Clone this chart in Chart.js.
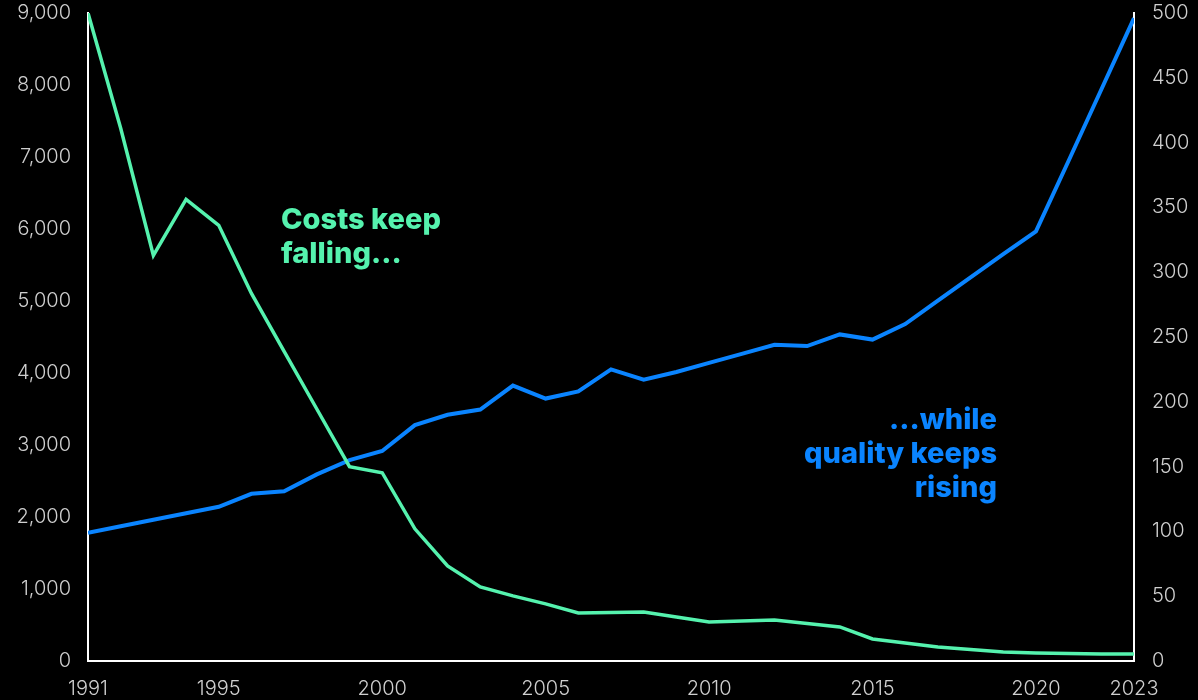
<!DOCTYPE html>
<html>
<head>
<meta charset="utf-8">
<script src="https://cdn.jsdelivr.net/npm/chart.js@4.4.1/dist/chart.umd.min.js"></script>
<style>
  html, body { margin: 0; padding: 0; background: #000; }
  #wrap { width: 1198px; height: 700px; position: relative; }
</style>
</head>
<body>
<div id="wrap"><canvas id="c" width="1198" height="700"></canvas></div>
<script>
const years = [1991,1992,1993,1994,1995,1996,1997,1998,1999,2000,2001,2002,2003,2004,2005,2006,2007,2008,2009,2010,2011,2012,2013,2014,2015,2016,2017,2018,2019,2020,2021,2022,2023];
const costs = [9000,7400,5633,6413,6051,5105,4300,3500,2699,2615,1836,1321,1029,904,793,668,675,682,612,542,556,570,522,473,306,250,195,160,125,111,104,97,97];
const quality = [99,104,109,114,119,129,131,144,155,162,182,190,194,212.5,202.5,208,225,217,223,230,237,244,243,252,248,260,278,296,314,331.5,386,441,496];
const xTicks = [1991,1995,2000,2005,2010,2015,2020,2023];
const costLabel = ["Costs keep", "falling..."];
const qualityLabel = ["...while", "quality keeps", "rising"];

const GREEN = '#55F2AE';
const BLUE = '#0A84FF';
const TICK = '#cfcfcf';
const tickFont = { family: 'Inter', size: 20, weight: '300' };

const annot = {
  id: 'annot',
  afterDatasetsDraw(chart) {
    const ctx = chart.ctx;
    ctx.save();
    ctx.font = '800 29px Inter';
    ctx.textBaseline = 'middle';
    ctx.fillStyle = GREEN;
    ctx.textAlign = 'left';
    costLabel.forEach((t, i) => ctx.fillText(t, 281, 220 + i * 34));
    ctx.fillStyle = BLUE;
    ctx.textAlign = 'right';
    qualityLabel.forEach((t, i) => ctx.fillText(t, 997, 420 + i * 34));
    ctx.restore();
  }
};

const noPadY = s => { s.paddingTop = 0; s.paddingBottom = 0; };

new Chart(document.getElementById('c'), {
  type: 'line',
  data: {
    datasets: [
      { label: 'Cost', data: years.map((y, i) => ({ x: y, y: costs[i] })), borderColor: GREEN, borderWidth: 3.5, pointRadius: 0, tension: 0, yAxisID: 'y' },
      { label: 'Quality', data: years.map((y, i) => ({ x: y, y: quality[i] })), borderColor: BLUE, borderWidth: 4, pointRadius: 0, tension: 0, yAxisID: 'y1' }
    ]
  },
  options: {
    responsive: false,
    animation: false,
    layout: { padding: { top: 13, left: 0, right: 0, bottom: 0 } },
    plugins: { legend: { display: false }, tooltip: { enabled: false } },
    scales: {
      x: {
        type: 'linear', min: 1991, max: 2023,
        afterBuildTicks: s => { s.ticks = xTicks.map(v => ({ value: v })); },
        afterFit: s => { s.height = 39; s.paddingLeft = 0; s.paddingRight = 0; },
        grid: { display: false, drawTicks: false },
        border: { display: true, color: '#ffffff', width: 2 },
        ticks: { color: TICK, font: tickFont, padding: 16, maxRotation: 0, autoSkip: false, callback: v => String(v) }
      },
      y: {
        position: 'left', min: 0, max: 9000,
        afterFit: s => { s.width = 88; noPadY(s); },
        grid: { display: false, drawTicks: false },
        border: { display: true, color: '#ffffff', width: 2 },
        ticks: { color: TICK, font: tickFont, padding: 17, stepSize: 1000, callback: v => v.toLocaleString('en-US') }
      },
      y1: {
        position: 'right', min: 0, max: 500,
        afterFit: s => { s.width = 64; noPadY(s); },
        grid: { display: false, drawTicks: false },
        border: { display: true, color: '#ffffff', width: 2 },
        ticks: { color: TICK, font: tickFont, padding: 18, stepSize: 50, callback: v => String(v) }
      }
    }
  },
  plugins: [annot]
});
</script>
</body>
</html>
